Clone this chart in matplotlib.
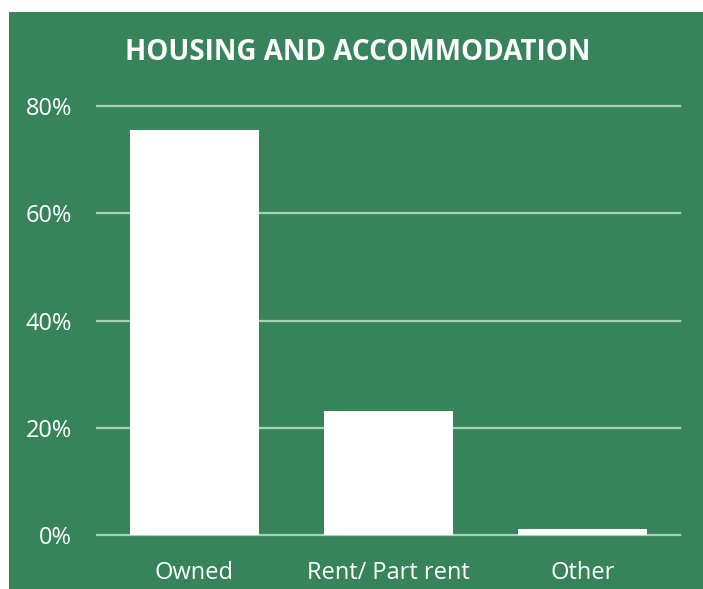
import numpy as np
import matplotlib
matplotlib.use('Agg')
import matplotlib.pyplot as plt
from matplotlib.patches import Rectangle

GREEN = '#37845b'
GRID = '#a6d3b6'

categories = ['Owned', 'Rent/ Part rent', 'Other']
values = [75.5, 23.1, 1.1]
yticks = [0, 20, 40, 60, 80]
ytick_labels = ['0%', '20%', '40%', '60%', '80%']

plt.rcParams['font.family'] = ['Open Sans', 'DejaVu Sans']

fig = plt.figure(figsize=(7.03, 5.89), dpi=100)
fig.patch.set_facecolor('white')
# green panel (starts a little in from the top-left corner), kept behind the axes
fig.add_artist(Rectangle((9 / 703, 0), 1, 1 - 12 / 589, transform=fig.transFigure,
                         facecolor=GREEN, edgecolor='none', zorder=-5))

ax = fig.add_axes([97 / 703, 54 / 589, 583 / 703, 429 / 589])
ax.set_facecolor('none')
x = np.arange(len(categories))
ax.bar(x, values, width=0.665, color='white', zorder=3)

ax.set_xlim(-0.5, 2.5)
ax.set_ylim(0, 80)
ax.set_yticks(yticks)
ax.set_yticklabels(ytick_labels)
ax.set_xticks(x)
ax.set_xticklabels(categories)
ax.yaxis.grid(True, color=GRID, linewidth=1.6)
ax.set_axisbelow(True)
for gl in ax.get_ygridlines():
    gl.set_clip_on(False)
for s in ax.spines.values():
    s.set_visible(False)
ax.tick_params(axis='both', length=0, labelsize=17, colors='white')
ax.tick_params(axis='y', pad=18)
ax.tick_params(axis='x', pad=19)

fig.text(358 / 703, 1 - 52 / 589, 'HOUSING AND ACCOMMODATION', ha='center', va='center',
         color='white', fontsize=20, fontweight='bold')

fig.savefig('out.png', dpi=100, facecolor=fig.get_facecolor())
